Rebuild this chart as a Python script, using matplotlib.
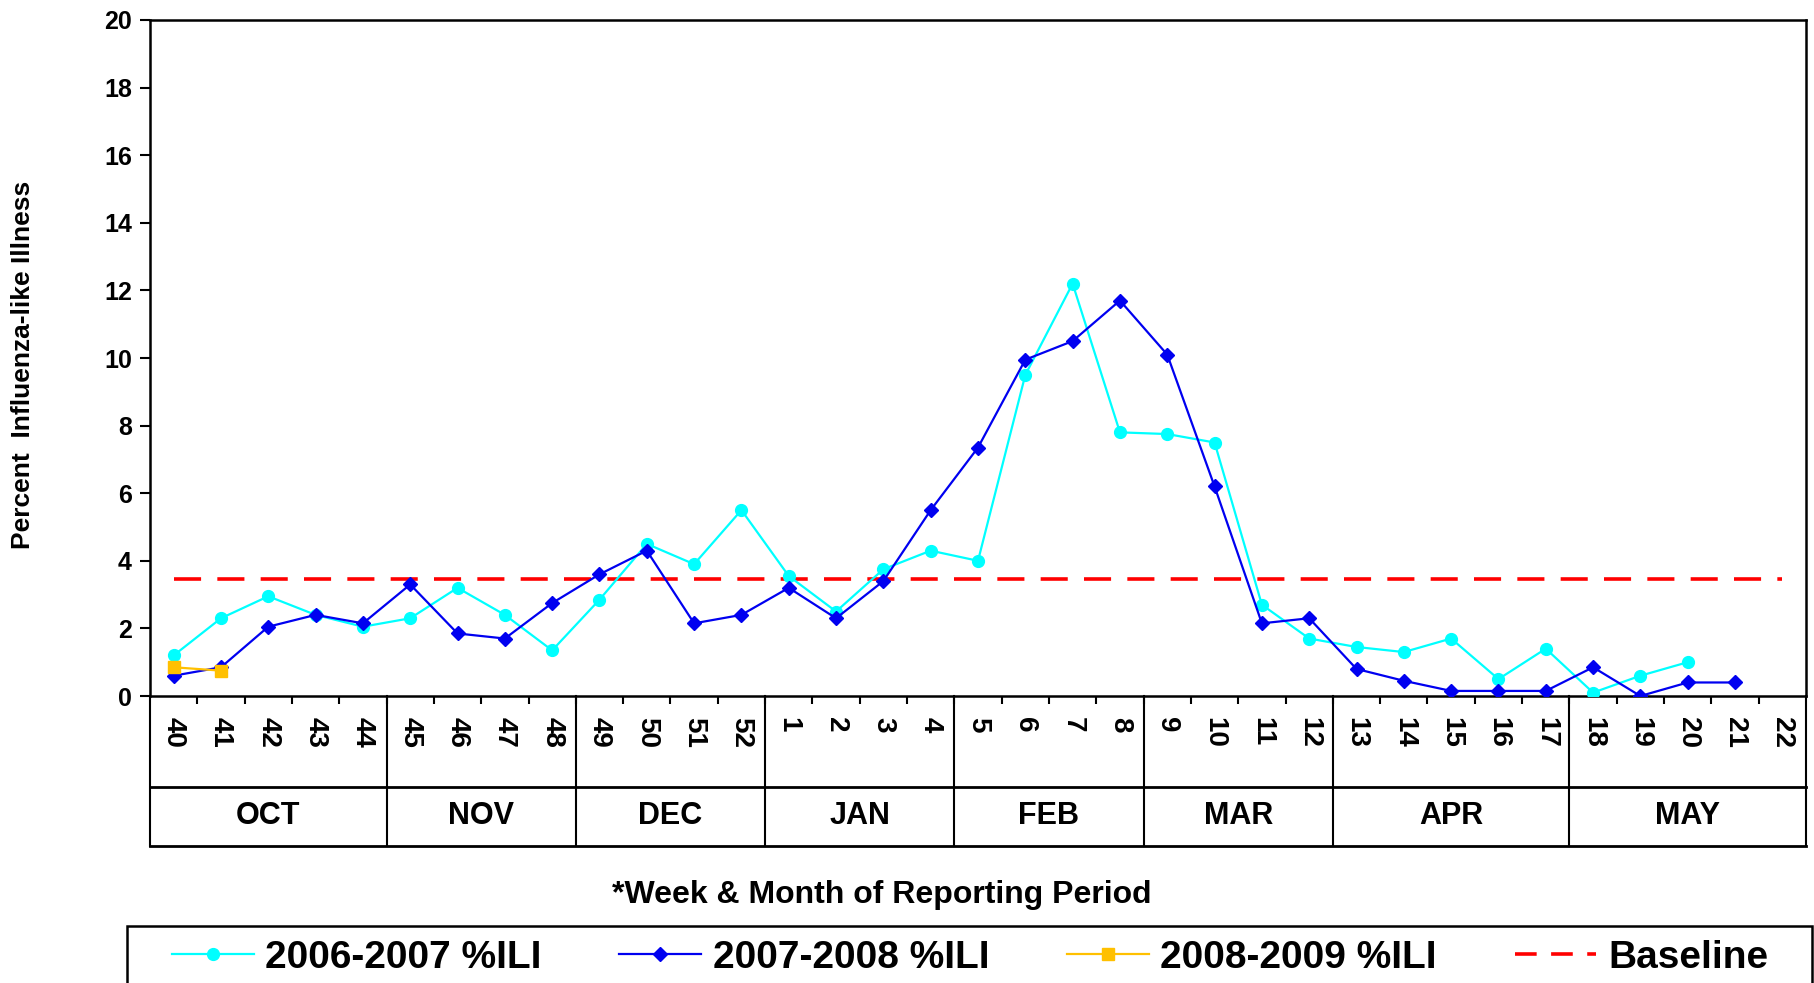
import matplotlib
matplotlib.use("Agg")
import matplotlib.pyplot as plt
from matplotlib.lines import Line2D
from matplotlib.patches import Rectangle

plt.rcParams["font.family"] = ["Liberation Sans", "DejaVu Sans"]
plt.rcParams["font.weight"] = "bold"

# Reporting weeks (Oct -> May)
weeks = [40, 41, 42, 43, 44, 45, 46, 47, 48, 49, 50, 51, 52,
         1, 2, 3, 4, 5, 6, 7, 8, 9, 10, 11, 12,
         13, 14, 15, 16, 17, 18, 19, 20, 21, 22]
months = ["OCT", "NOV", "DEC", "JAN", "FEB", "MAR", "APR", "MAY"]
weeks_per_month = [5, 4, 4, 4, 4, 4, 5, 5]

# %ILI per season (None = not reported)
ili_0607 = [1.2, 2.3, 2.95, 2.4, 2.05, 2.3, 3.2, 2.4, 1.35, 2.85, 4.5, 3.9, 5.5,
            3.55, 2.5, 3.75, 4.3, 4.0, 9.5, 12.2, 7.8, 7.75, 7.5, 2.7, 1.7,
            1.45, 1.3, 1.7, 0.5, 1.4, 0.1, 0.6, 1.0, None, None]
ili_0708 = [0.6, 0.85, 2.05, 2.4, 2.15, 3.3, 1.85, 1.7, 2.75, 3.6, 4.3, 2.15, 2.4,
            3.2, 2.3, 3.4, 5.5, 7.35, 9.95, 10.5, 11.7, 10.1, 6.2, 2.15, 2.3,
            0.8, 0.45, 0.15, 0.15, 0.15, 0.85, 0.0, 0.4, 0.4, None]
ili_0809 = [0.85, 0.75]
baseline = 3.46

x = list(range(len(weeks)))
clean = lambda vals: [float("nan") if v is None else v for v in vals]

fig = plt.figure(figsize=(18.15, 9.83), dpi=100)
ax = fig.add_axes([150 / 1815, 1 - 696 / 983, 1656 / 1815, 676 / 983])

ax.plot(x, [baseline] * len(x), color="#FF0000", lw=2.6, dashes=(7.5, 4.5), zorder=2)
ax.plot(x, clean(ili_0607), color="#00FFFF", lw=1.6, marker="o", ms=8.5, zorder=3)
ax.plot(x, clean(ili_0708), color="#0000F0", lw=1.6, marker="D", ms=7.5, zorder=4)
ax.plot(x[:len(ili_0809)], ili_0809, color="#FFC000", lw=1.6, marker="s", ms=8.5, zorder=5)

ax.set_xlim(-0.5, len(x) - 0.5)
ax.set_ylim(0, 20)
ax.set_yticks(range(0, 21, 2))
ax.tick_params(axis="y", direction="out", length=7, width=1.5, labelsize=18, pad=6)
for s in ax.spines.values():
    s.set_linewidth(1.8)

# week labels, month table below the axis
ax.set_xticks(x, [str(w) for w in weeks], rotation=270,
              fontfamily=["Liberation Sans Narrow", "Liberation Sans"], fontsize=20)
ax.tick_params(axis="x", length=0, pad=15)
ax.set_xticks([i - 0.5 for i in range(1, len(x))], minor=True)
ax.tick_params(axis="x", which="minor", direction="out", length=6, width=1.5)

trans = ax.get_xaxis_transform()
y_mid, y_bot = -0.1346, -0.222
edges = [-0.5]
for n in weeks_per_month:
    edges.append(edges[-1] + n)
for e in edges:
    ax.plot([e, e], [0, y_bot], color="black", lw=1.5, transform=trans, clip_on=False)
for yy in (y_mid, y_bot):
    ax.plot([edges[0], edges[-1]], [yy, yy], color="black", lw=2, transform=trans, clip_on=False)
for m, a, b in zip(months, edges[:-1], edges[1:]):
    ax.text((a + b) / 2, -0.178, m, transform=trans, ha="center", va="center", fontsize=22)

fig.text(882 / 1815, 1 - 895 / 983, "*Week & Month of Reporting Period",
         ha="center", va="center", fontsize=23)
fig.text(23 / 1815, 1 - 365 / 983, "Percent  Influenza-like Illness",
         rotation=90, ha="center", va="center", fontsize=19)

handles = [
    Line2D([], [], color="#00FFFF", lw=1.6, marker="o", ms=8.5),
    Line2D([], [], color="#0000F0", lw=1.6, marker="D", ms=7.5),
    Line2D([], [], color="#FFC000", lw=1.6, marker="s", ms=8.5),
    Line2D([], [], color="#FF0000", lw=2.6, dashes=(6, 4)),
]
labels = ["2006-2007 %ILI", "2007-2008 %ILI", "2008-2009 %ILI", "Baseline"]
fig.legend(handles, labels, loc="center", bbox_to_anchor=(970 / 1815, 1 - 958 / 983),
           ncol=4, fontsize=28, frameon=False, handlelength=2.1,
           handletextpad=0.3, columnspacing=2.0, borderpad=0.2, borderaxespad=0)
# legend box, runs off the bottom edge like the original
fig.add_artist(Rectangle((127 / 1815, 1 - 1000 / 983), 1685 / 1815, 74 / 983,
                         transform=fig.transFigure, fill=False, ec="black", lw=1.8))

fig.savefig("out.png", dpi=100)
